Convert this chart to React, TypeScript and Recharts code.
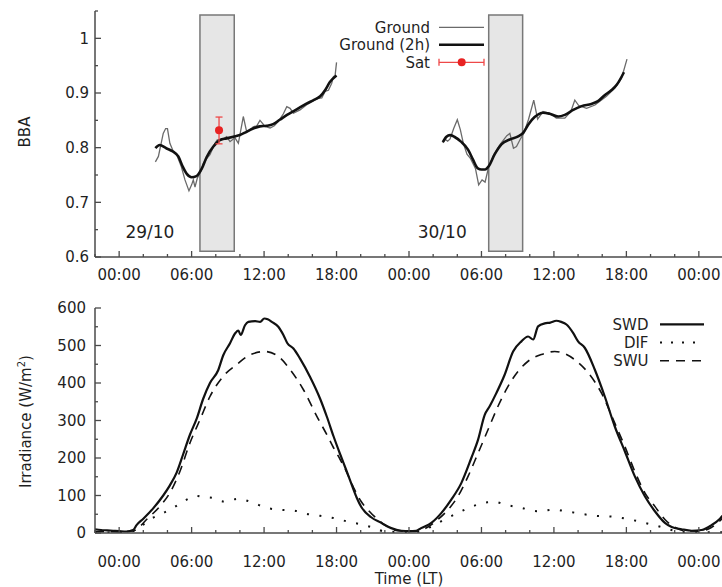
import React from 'react';
import {
  ComposedChart,
  Line,
  Scatter,
  ErrorBar,
  XAxis,
  YAxis,
  ReferenceArea,
  ReferenceDot,
  Legend,
} from 'recharts';

const FONT = '"DejaVu Sans", sans-serif';
const INK = '#1f1f1f';
const FRAME = '#4a4a4a';
const GROUND_COLOR = '#6a6a6a';
const GROUND2H_COLOR = '#111111';
const SAT_COLOR = '#e82222';
const SAT_BAR_COLOR = '#ee4848';

// ---------- axes ----------
const TIME_DOMAIN: [number, number] = [-2, 50];
const TIME_TICKS = [-2, 0, 2, 4, 6, 8, 10, 12, 14, 16, 18, 20, 22, 24, 26, 28, 30, 32, 34, 36, 38, 40, 42, 44, 46, 48, 50];
const TIME_MAJOR = [0, 6, 12, 18, 24, 30, 36, 42, 48];
const TIME_LABELS = ['00:00', '06:00', '12:00', '18:00', '00:00', '06:00', '12:00', '18:00', '00:00'];

const BBA_DOMAIN: [number, number] = [0.6, 1.05];
const BBA_TICKS = [0.6, 0.65, 0.7, 0.75, 0.8, 0.85, 0.9, 0.95, 1.0, 1.05];
const BBA_MAJOR = [0.6, 0.7, 0.8, 0.9, 1.0];
const BBA_LABELS = ['0.6', '0.7', '0.8', '0.9', '1'];

const IRR_DOMAIN: [number, number] = [0, 600];
const IRR_TICKS = [0, 50, 100, 150, 200, 250, 300, 350, 400, 450, 500, 550, 600];
const IRR_MAJOR = [0, 100, 200, 300, 400, 500, 600];
const IRR_LABELS = ['0', '100', '200', '300', '400', '500', '600'];

// ---------- top panel data (hour since 29/10 00:00, BBA) ----------
const GROUND_D1: [number, number][] = [
  [3.0, 0.774], [3.25, 0.784], [3.65, 0.826], [3.85, 0.835], [4.0, 0.835], [4.2, 0.808], [4.45, 0.795],
  [4.75, 0.788], [5.15, 0.765], [5.45, 0.741], [5.78, 0.721], [6.0, 0.732], [6.14, 0.741], [6.28, 0.728],
  [6.47, 0.744], [6.75, 0.756], [6.97, 0.771], [7.25, 0.78], [7.52, 0.787], [7.93, 0.808], [8.12, 0.814],
  [8.49, 0.814], [8.9, 0.82], [9.18, 0.811], [9.59, 0.818], [9.87, 0.808], [10.28, 0.857], [10.56, 0.829],
  [10.84, 0.832], [11.1, 0.838], [11.4, 0.84], [11.66, 0.85], [12.08, 0.839], [12.5, 0.836], [12.85, 0.84],
  [13.18, 0.848], [13.6, 0.862], [13.88, 0.875], [14.15, 0.872], [14.43, 0.863], [14.98, 0.869], [15.5, 0.878],
  [16.09, 0.886], [16.5, 0.89], [16.78, 0.891], [17.05, 0.903], [17.33, 0.905], [17.6, 0.918], [17.74, 0.93],
  [17.88, 0.932], [18.0, 0.956],
];
const GROUND2H_D1: [number, number][] = [
  [3.0, 0.799], [3.35, 0.805], [3.9, 0.799], [4.45, 0.793], [4.9, 0.784], [5.25, 0.766], [5.6, 0.752],
  [6.0, 0.746], [6.4, 0.748], [6.85, 0.762], [7.25, 0.783], [7.8, 0.802], [8.35, 0.814], [8.9, 0.817],
  [9.45, 0.82], [10.0, 0.823], [10.55, 0.829], [11.1, 0.835], [11.65, 0.839], [12.2, 0.84], [12.75, 0.843],
  [13.3, 0.851], [13.9, 0.86], [14.45, 0.867], [15.0, 0.874], [15.55, 0.881], [16.1, 0.887], [16.65, 0.894],
  [17.05, 0.905], [17.45, 0.92], [18.0, 0.932],
];
const GROUND_D2: [number, number][] = [
  [26.8, 0.809], [27.0, 0.815], [27.2, 0.812], [27.4, 0.816], [27.7, 0.835], [28.0, 0.851], [28.25, 0.833],
  [28.5, 0.808], [28.8, 0.788], [29.1, 0.78], [29.5, 0.762], [29.77, 0.732], [30.05, 0.741], [30.3, 0.737],
  [30.6, 0.765], [31.0, 0.786], [31.55, 0.806], [32.1, 0.822], [32.35, 0.826], [32.65, 0.799], [32.9, 0.802],
  [33.2, 0.815], [33.5, 0.826], [33.9, 0.852], [34.33, 0.887], [34.65, 0.852], [35.1, 0.866], [35.65, 0.863],
  [36.2, 0.854], [36.9, 0.854], [37.4, 0.866], [37.73, 0.887], [38.05, 0.877], [38.7, 0.872], [39.4, 0.878],
  [40.35, 0.894], [41.05, 0.909], [41.6, 0.927], [42.05, 0.962],
];
const GROUND2H_D2: [number, number][] = [
  [26.8, 0.81], [27.1, 0.82], [27.4, 0.823], [27.75, 0.82], [28.3, 0.811], [28.9, 0.796], [29.3, 0.778],
  [29.7, 0.762], [30.0, 0.76], [30.3, 0.76], [30.6, 0.766], [31.1, 0.788], [31.65, 0.806], [32.35, 0.815],
  [33.0, 0.82], [33.45, 0.827], [33.9, 0.843], [34.4, 0.856], [35.1, 0.864], [35.65, 0.862], [36.35, 0.857],
  [36.9, 0.86], [37.6, 0.869], [38.3, 0.876], [39.1, 0.88], [39.65, 0.885], [40.2, 0.896], [40.75, 0.905],
  [41.2, 0.915], [41.8, 0.938],
];
// satellite retrieval: [hour, BBA, minus error, plus error]
const SAT: [number, number, number, number][] = [[8.27, 0.832, 0.025, 0.024]];
// satellite overpass windows [start hour, end hour, low, high]
const WINDOWS: [number, number, number, number][] = [
  [6.69, 9.53, 0.6104, 1.0427],
  [30.6, 33.41, 0.6104, 1.0427],
];
const DATES: [number, number, string][] = [
  [2.55, 0.6457, '29/10'],
  [26.75, 0.6457, '30/10'],
];
const TOP_LEGEND = ['Ground', 'Ground (2h)', 'Sat'];

// ---------- bottom panel data (hour, W/m2) ----------
const SWD: [number, number][] = [
  [-2, 10], [-1.5, 8], [-1, 7], [-0.5, 6], [0, 5], [0.6, 4], [1.16, 8], [1.44, 21], [2.0, 38], [2.8, 65],
  [3.65, 100], [4.2, 127], [4.76, 161], [5.3, 210], [5.86, 262], [6.42, 305], [6.96, 358], [7.52, 400],
  [8.2, 434], [8.62, 474], [9.18, 506], [9.59, 532], [9.87, 540], [10.06, 528], [10.42, 554], [10.7, 563],
  [11.26, 565], [11.67, 563], [12.02, 572], [12.3, 570], [12.64, 563], [13.18, 550], [13.6, 528], [13.93, 506],
  [14.43, 492], [14.98, 465], [15.81, 416], [16.64, 358], [17.2, 310], [17.75, 258], [18.3, 210], [18.8, 168],
  [19.3, 125], [19.7, 92], [20.04, 70], [20.87, 42], [21.7, 27], [22.53, 13], [23.36, 6], [24.0, 5], [24.6, 6],
  [25.0, 13], [25.85, 27], [26.67, 53], [27.5, 89], [28.33, 133], [29.16, 200], [29.72, 249], [30.27, 315],
  [30.68, 338], [31.23, 373], [31.92, 422], [32.62, 484], [33.31, 511], [33.86, 524], [34.28, 516], [34.69, 551],
  [35.24, 559], [35.7, 561], [36.2, 566], [36.6, 563], [37.04, 556], [37.6, 533], [38.0, 511], [38.55, 494],
  [39.38, 436], [40.21, 364], [41.04, 284], [41.87, 218], [42.7, 151], [43.53, 98], [44.36, 58], [45.19, 27],
  [45.75, 16], [46.57, 10], [47.4, 6], [48.23, 8], [49.06, 21], [49.75, 38], [50, 47],
];
const SWU: [number, number][] = [
  [-2, 4], [0, 3], [1.2, 6], [1.6, 14], [2.27, 36], [3.37, 71], [4.2, 107], [5.03, 164], [5.86, 240], [6.69, 302],
  [7.52, 364], [8.62, 418], [9.73, 449], [10.84, 475], [12.08, 484], [13.32, 467], [14.15, 436], [15.26, 382],
  [16.37, 311], [17.2, 262], [17.74, 228], [18.3, 196], [18.8, 165], [19.4, 122], [20.04, 84], [20.6, 62],
  [21.42, 36], [22.25, 16], [23.08, 6], [24.5, 4], [25.0, 7], [25.57, 16], [26.4, 36], [27.23, 62], [28.06, 98],
  [28.89, 151], [29.72, 213], [30.55, 276], [31.37, 338], [32.2, 391], [33.03, 431], [33.86, 458], [34.96, 476],
  [36.07, 484], [36.9, 478], [37.73, 462], [38.84, 427], [39.94, 373], [41.04, 293], [41.87, 231], [42.7, 164],
  [43.53, 107], [44.36, 71], [45.19, 36], [46.0, 16], [46.8, 6], [48.0, 5], [49.0, 14], [50, 40],
];
const DIF: [number, number][] = [
  [-2, 2], [0, 1], [1.5, 8], [2.27, 31], [3.37, 49], [4.48, 67], [5.59, 89], [6.42, 99], [6.96, 96], [7.79, 93],
  [8.62, 84], [9.87, 91], [11.11, 80], [12.22, 67], [13.32, 62], [14.43, 60], [15.53, 51], [16.64, 46],
  [17.74, 40], [18.85, 31], [20.04, 23], [21.14, 13], [22.0, 4], [24.5, 2], [25.57, 13], [26.94, 36],
  [28.33, 58], [29.72, 76], [30.5, 82], [31.1, 83], [31.92, 76], [33.31, 67], [34.69, 58], [36.07, 62],
  [37.0, 58], [38.28, 51], [39.38, 46], [41.04, 43], [42.15, 37], [43.53, 27], [44.91, 16], [46.0, 6],
  [47.0, 2], [50, 2],
];
const BOTTOM_LEGEND = ['SWD', 'DIF', 'SWU'];

const pts = (arr: [number, number][]) => arr.map(([h, v]) => ({ h, v }));
const satPts = SAT.map(([h, v, lo, hi]) => ({ h, v, err: [lo, hi] }));

// ---------- tick renderer ----------
const labelFor = (v: number, majors: number[], labels: string[]) => {
  const i = majors.findIndex((m) => Math.abs(m - v) < 1e-6);
  return i >= 0 ? labels[i] : null;
};

const makeTick =
  (side: 'bottom' | 'top' | 'left' | 'right', majors: number[], labels: string[], gap: number | null) =>
  (props: any) => {
    const { x, y, payload } = props;
    const label = labelFor(payload.value, majors, labels);
    const len = label !== null ? 6 : 3;
    let line: React.ReactNode = null;
    let text: React.ReactNode = null;
    const ts = { fontFamily: FONT, fontSize: 15, fill: INK };
    if (side === 'bottom') {
      line = <line x1={x} y1={y} x2={x} y2={y - len} stroke={FRAME} strokeWidth={1.3} />;
      if (label !== null && gap !== null)
        text = (
          <text x={x} y={y + gap} textAnchor="middle" {...ts}>
            {label}
          </text>
        );
    } else if (side === 'top') {
      line = <line x1={x} y1={y} x2={x} y2={y + len} stroke={FRAME} strokeWidth={1.3} />;
    } else if (side === 'left') {
      line = <line x1={x} y1={y} x2={x + len} y2={y} stroke={FRAME} strokeWidth={1.3} />;
      if (label !== null && gap !== null)
        text = (
          <text x={x - gap} y={y} dy="0.36em" textAnchor="end" {...ts}>
            {label}
          </text>
        );
    } else {
      line = <line x1={x} y1={y} x2={x - len} y2={y} stroke={FRAME} strokeWidth={1.3} />;
    }
    return (
      <g>
        {line}
        {text}
      </g>
    );
  };

const axisLine = { stroke: FRAME, strokeWidth: 1.5 };

const TopLegend = () => (
  <svg width={722} height={80} style={{ display: 'block' }}>
    {TOP_LEGEND.map((name, i) => {
      const cy = 27.3 + i * 17.5;
      return (
        <g key={name}>
          <text x={430} y={cy} dy="0.36em" textAnchor="end" fontFamily={FONT} fontSize={15} fill={INK}>
            {name}
          </text>
          {i === 0 && <line x1={439} x2={484} y1={cy} y2={cy} stroke={GROUND_COLOR} strokeWidth={1.3} />}
          {i === 1 && <line x1={439} x2={484} y1={cy} y2={cy} stroke={GROUND2H_COLOR} strokeWidth={2.6} />}
          {i === 2 && (
            <g stroke={SAT_BAR_COLOR} strokeWidth={1.3}>
              <line x1={439} x2={484} y1={cy} y2={cy} />
              <line x1={439} x2={439} y1={cy - 3.5} y2={cy + 3.5} />
              <line x1={484} x2={484} y1={cy - 3.5} y2={cy + 3.5} />
              <circle cx={461.7} cy={cy} r={4} fill={SAT_COLOR} stroke="none" />
            </g>
          )}
        </g>
      );
    })}
  </svg>
);

const BottomLegend = () => (
  <svg width={722} height={90} style={{ display: 'block' }}>
    {BOTTOM_LEGEND.map((name, i) => {
      const cy = 34.3 + i * 18.2;
      const dash = i === 0 ? undefined : i === 1 ? '2 9' : '9 7';
      return (
        <g key={name}>
          <text x={648.5} y={cy} dy="0.36em" textAnchor="end" fontFamily={FONT} fontSize={15} fill={INK}>
            {name}
          </text>
          <line
            x1={660}
            x2={704}
            y1={cy}
            y2={cy}
            stroke="#111"
            strokeWidth={i === 0 ? 2.2 : i === 1 ? 2 : 1.6}
            strokeDasharray={dash}
          />
        </g>
      );
    })}
  </svg>
);

const legendWrap = { position: 'absolute' as const, left: 0, top: 0, width: 722, margin: 0, pointerEvents: 'none' as const };

export default function App() {
  return (
    <div
      style={{
        position: 'absolute',
        left: 0,
        top: 0,
        width: 722,
        height: 587,
        overflow: 'hidden',
        background: '#ffffff',
        fontFamily: FONT,
      }}
    >
      <div style={{ position: 'absolute', left: 0, top: 0 }}>
        <ComposedChart width={723} height={290} margin={{ top: 11, right: 0, bottom: 0, left: 0 }}>
          <XAxis
            xAxisId="b"
            dataKey="h"
            type="number"
            domain={TIME_DOMAIN}
            ticks={TIME_TICKS}
            interval={0}
            allowDataOverflow
            height={33}
            tickSize={0}
            tickMargin={0}
            tickLine={false}
            axisLine={axisLine}
            tick={makeTick('bottom', TIME_MAJOR, TIME_LABELS, 23.2)}
          />
          <XAxis
            xAxisId="t"
            orientation="top"
            type="number"
            domain={TIME_DOMAIN}
            ticks={TIME_TICKS}
            interval={0}
            allowDataOverflow
            height={0}
            tickSize={0}
            tickMargin={0}
            tickLine={false}
            axisLine={axisLine}
            tick={makeTick('top', TIME_MAJOR, TIME_LABELS, null)}
          />
          <YAxis
            yAxisId="l"
            type="number"
            domain={BBA_DOMAIN}
            ticks={BBA_TICKS}
            interval={0}
            allowDataOverflow
            width={95}
            tickSize={0}
            tickMargin={0}
            tickLine={false}
            axisLine={axisLine}
            tick={makeTick('left', BBA_MAJOR, BBA_LABELS, 6)}
            label={(p: any) => {
              const vb = p.viewBox;
              const cy = vb.y + vb.height / 2 - 2;
              return (
                <text
                  x={30}
                  y={cy}
                  textAnchor="middle"
                  transform={`rotate(-90 30 ${cy})`}
                  fontFamily={FONT}
                  fontSize={15}
                  fill={INK}
                >
                  BBA
                </text>
              );
            }}
          />
          <YAxis
            yAxisId="r"
            orientation="right"
            type="number"
            domain={BBA_DOMAIN}
            ticks={BBA_TICKS}
            interval={0}
            allowDataOverflow
            width={0}
            tickSize={0}
            tickMargin={0}
            tickLine={false}
            axisLine={axisLine}
            tick={makeTick('right', BBA_MAJOR, BBA_LABELS, null)}
          />
          {WINDOWS.map(([a, b, lo, hi], i) => (
            <ReferenceArea
              key={`w${i}`}
              xAxisId="b"
              yAxisId="l"
              x1={a}
              x2={b}
              y1={lo}
              y2={hi}
              fill="#e6e6e6"
              fillOpacity={1}
              stroke="#787878"
              strokeWidth={1.5}
            />
          ))}
          {DATES.map(([h, v, t]) => (
            <ReferenceDot
              key={t}
              xAxisId="b"
              yAxisId="l"
              x={h}
              y={v}
              r={0}
              fill="none"
              stroke="none"
              label={{ value: t, position: 'center', fontFamily: FONT, fontSize: 17, fill: INK }}
            />
          ))}
          <Line
            xAxisId="b"
            yAxisId="l"
            data={pts(GROUND_D1)}
            dataKey="v"
            name="Ground"
            type="linear"
            stroke={GROUND_COLOR}
            strokeWidth={1.3}
            dot={false}
            isAnimationActive={false}
          />
          <Line
            xAxisId="b"
            yAxisId="l"
            data={pts(GROUND_D2)}
            dataKey="v"
            name="Ground d2"
            type="linear"
            stroke={GROUND_COLOR}
            strokeWidth={1.3}
            dot={false}
            isAnimationActive={false}
          />
          <Line
            xAxisId="b"
            yAxisId="l"
            data={pts(GROUND2H_D1)}
            dataKey="v"
            name="Ground (2h)"
            type="monotone"
            stroke={GROUND2H_COLOR}
            strokeWidth={2.6}
            dot={false}
            isAnimationActive={false}
          />
          <Line
            xAxisId="b"
            yAxisId="l"
            data={pts(GROUND2H_D2)}
            dataKey="v"
            name="Ground (2h) d2"
            type="monotone"
            stroke={GROUND2H_COLOR}
            strokeWidth={2.6}
            dot={false}
            isAnimationActive={false}
          />
          <Scatter
            xAxisId="b"
            yAxisId="l"
            data={satPts}
            dataKey="v"
            name="Sat"
            isAnimationActive={false}
            shape={(p: any) => <circle cx={p.cx} cy={p.cy} r={4} fill={SAT_COLOR} />}
          >
            <ErrorBar dataKey="err" direction="y" width={3.5} stroke={SAT_BAR_COLOR} strokeWidth={1.3} />
          </Scatter>
          <Legend
            layout="vertical"
            align="center"
            verticalAlign="middle"
            wrapperStyle={legendWrap}
            content={() => <TopLegend />}
          />
        </ComposedChart>
      </div>

      <div style={{ position: 'absolute', left: 0, top: 290 }}>
        <ComposedChart width={723} height={297} margin={{ top: 18, right: 0, bottom: 0, left: 0 }}>
          <XAxis
            xAxisId="b"
            dataKey="h"
            type="number"
            domain={TIME_DOMAIN}
            ticks={TIME_TICKS}
            interval={0}
            allowDataOverflow
            height={54}
            tickSize={0}
            tickMargin={0}
            tickLine={false}
            axisLine={axisLine}
            tick={makeTick('bottom', TIME_MAJOR, TIME_LABELS, 34)}
            label={(p: any) => {
              const vb = p.viewBox;
              return (
                <text
                  x={vb.x + vb.width / 2}
                  y={vb.y + 51}
                  textAnchor="middle"
                  fontFamily={FONT}
                  fontSize={15}
                  fill={INK}
                >
                  Time (LT)
                </text>
              );
            }}
          />
          <XAxis
            xAxisId="t"
            orientation="top"
            type="number"
            domain={TIME_DOMAIN}
            ticks={TIME_TICKS}
            interval={0}
            allowDataOverflow
            height={0}
            tickSize={0}
            tickMargin={0}
            tickLine={false}
            axisLine={axisLine}
            tick={makeTick('top', TIME_MAJOR, TIME_LABELS, null)}
          />
          <YAxis
            yAxisId="l"
            type="number"
            domain={IRR_DOMAIN}
            ticks={IRR_TICKS}
            interval={0}
            allowDataOverflow
            width={95}
            tickSize={0}
            tickMargin={0}
            tickLine={false}
            axisLine={axisLine}
            tick={makeTick('left', IRR_MAJOR, IRR_LABELS, 9)}
            label={(p: any) => {
              const vb = p.viewBox;
              const cy = vb.y + vb.height / 2 + 1;
              return (
                <text
                  x={30.5}
                  y={cy}
                  textAnchor="middle"
                  transform={`rotate(-90 30.5 ${cy})`}
                  fontFamily={FONT}
                  fontSize={15}
                  fill={INK}
                >
                  Irradiance (W/m
                  <tspan dy={-6} fontSize={10}>
                    2
                  </tspan>
                  <tspan dy={6}>)</tspan>
                </text>
              );
            }}
          />
          <YAxis
            yAxisId="r"
            orientation="right"
            type="number"
            domain={IRR_DOMAIN}
            ticks={IRR_TICKS}
            interval={0}
            allowDataOverflow
            width={0}
            tickSize={0}
            tickMargin={0}
            tickLine={false}
            axisLine={axisLine}
            tick={makeTick('right', IRR_MAJOR, IRR_LABELS, null)}
          />
          <Line
            xAxisId="b"
            yAxisId="l"
            data={pts(DIF)}
            dataKey="v"
            name="DIF"
            type="monotone"
            stroke="#111"
            strokeWidth={2}
            strokeDasharray="2 10.5"
            dot={false}
            isAnimationActive={false}
          />
          <Line
            xAxisId="b"
            yAxisId="l"
            data={pts(SWU)}
            dataKey="v"
            name="SWU"
            type="monotone"
            stroke="#111"
            strokeWidth={1.6}
            strokeDasharray="9 7"
            dot={false}
            isAnimationActive={false}
          />
          <Line
            xAxisId="b"
            yAxisId="l"
            data={pts(SWD)}
            dataKey="v"
            name="SWD"
            type="monotone"
            stroke="#111"
            strokeWidth={2.2}
            dot={false}
            isAnimationActive={false}
          />
          <Legend
            layout="vertical"
            align="center"
            verticalAlign="middle"
            wrapperStyle={legendWrap}
            content={() => <BottomLegend />}
          />
        </ComposedChart>
      </div>
    </div>
  );
}
